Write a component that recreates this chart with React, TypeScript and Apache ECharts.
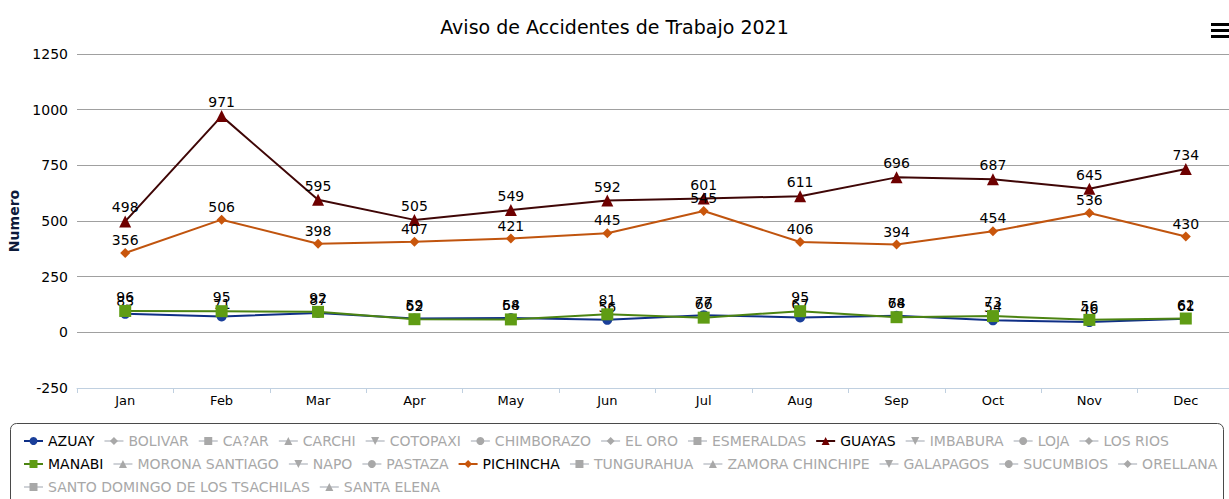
import React, { useEffect, useRef } from "react";
import * as echarts from "echarts";

const months = ["Jan", "Feb", "Mar", "Apr", "May", "Jun", "Jul", "Aug", "Sep", "Oct", "Nov", "Dec"];
const azuay = [83, 71, 87, 62, 64, 56, 77, 67, 74, 54, 46, 61];
const guayas = [498, 971, 595, 505, 549, 592, 601, 611, 696, 687, 645, 734];
const manabi = [96, 95, 92, 59, 58, 81, 66, 95, 68, 73, 56, 62];
const pichincha = [356, 506, 398, 407, 421, 445, 545, 406, 394, 454, 536, 430];

const provinces = [
  "AZUAY", "BOLIVAR", "CA?AR", "CARCHI", "COTOPAXI", "CHIMBORAZO", "EL ORO", "ESMERALDAS",
  "GUAYAS", "IMBABURA", "LOJA", "LOS RIOS", "MANABI", "MORONA SANTIAGO", "NAPO", "PASTAZA",
  "PICHINCHA", "TUNGURAHUA", "ZAMORA CHINCHIPE", "GALAPAGOS", "SUCUMBIOS", "ORELLANA",
  "SANTO DOMINGO DE LOS TSACHILAS", "SANTA ELENA",
];
const yTicks = { min: -250, max: 1250, interval: 250 };

const TRI_DOWN = "path://M0,0 L10,0 L5,10 Z";
const symbolCycle = ["circle", "diamond", "rect", "triangle", TRI_DOWN];

const activeData: Record<string, number[]> = {
  AZUAY: azuay,
  GUAYAS: guayas,
  MANABI: manabi,
  PICHINCHA: pichincha,
};
const styles: Record<string, { line: string; marker: string; size: number }> = {
  AZUAY: { line: "#0f2f86", marker: "#1a3f9a", size: 10 },
  GUAYAS: { line: "#3f0606", marker: "#6e0000", size: 12 },
  MANABI: { line: "#4c8412", marker: "#5f9c14", size: 12 },
  PICHINCHA: { line: "#c0540e", marker: "#c9560c", size: 10 },
};

const FONT = "DejaVu Sans";

export default function App() {
  const ref = useRef<HTMLDivElement>(null);
  useEffect(() => {
    if (!ref.current) return;
    const chart = echarts.init(ref.current, undefined, { renderer: "svg" });
    const selected: Record<string, boolean> = {};
    provinces.forEach((p) => (selected[p] = !!activeData[p]));
    const series = provinces.map((p, i) => {
      const st = styles[p];
      const sym = symbolCycle[i % 5];
      return {
        name: p,
        type: "line",
        data: activeData[p] || [],
        symbol: sym,
        symbolSize: st ? st.size : 10,
        showAllSymbol: true,
        lineStyle: { width: 2, color: st ? st.line : "#999" },
        itemStyle: { color: st ? st.marker : "#999" },
        label: {
          show: true,
          position: "top",
          distance: 1,
          color: "#000",
          fontSize: 14,
          fontFamily: FONT,
        },
        emphasis: { disabled: true },
        z: 2 + i,
      };
    });
    chart.setOption({
      animation: false,
      textStyle: { fontFamily: FONT },
      title: {
        text: "Aviso de Accidentes de Trabajo 2021",
        left: "center",
        top: 12,
        textStyle: { fontSize: 19, fontWeight: "normal", color: "#000", fontFamily: FONT },
      },
      legend: {
        data: provinces.map((p) => ({ name: p })),
        selected,
        left: 18,
        top: 429,
        width: 1207,
        itemWidth: 19,
        itemHeight: 10,
        itemGap: 9,
        textStyle: { fontSize: 14, color: "#000", fontFamily: FONT },
        inactiveColor: "#a8a8a8",
        inactiveBorderColor: "#a8a8a8",
      },
      grid: { left: 77, right: -5, top: 54, bottom: 111, containLabel: false, outerBoundsMode: "none" },
      xAxis: {
        type: "category",
        data: months,
        boundaryGap: true,
        axisLine: { onZero: false, lineStyle: { color: "#c0d0e0", width: 1 } },
        axisTick: { show: true, length: 5, interval: 0, lineStyle: { color: "#c0d0e0" } },
        axisLabel: { color: "#000", fontSize: 13, margin: 6, fontFamily: FONT },
        splitLine: { show: false },
      },
      yAxis: {
        type: "value",
        min: yTicks.min,
        max: yTicks.max,
        interval: yTicks.interval,
        name: "Numero",
        nameLocation: "middle",
        nameRotate: 90,
        nameGap: 50,
        nameTextStyle: { fontSize: 14, fontWeight: "bold", color: "#0d1a3a", fontFamily: FONT },
        axisLine: { show: false },
        axisTick: { show: false },
        axisLabel: {
          color: "#000",
          fontSize: 14,
          margin: 9,
          fontFamily: FONT,
          formatter: (v: number) => String(v),
        },
        splitLine: { show: true, lineStyle: { color: "#a0a0a0", width: 1 } },
      },
      graphic: [
        {
          type: "rect",
          shape: { x: 10.5, y: 423.5, width: 1213, height: 100, r: 6 },
          style: { fill: "none", stroke: "#4a4a4a", lineWidth: 1 },
          silent: true,
        },
        { type: "rect", shape: { x: 1211, y: 23, width: 20, height: 3 }, style: { fill: "#000" } },
        { type: "rect", shape: { x: 1211, y: 29, width: 20, height: 3 }, style: { fill: "#000" } },
        { type: "rect", shape: { x: 1211, y: 35, width: 20, height: 3 }, style: { fill: "#000" } },
      ],
      series,
    });
    return () => chart.dispose();
  }, []);
  return (
    <div
      ref={ref}
      style={{ position: "absolute", left: 0, top: 0, width: 1229, height: 499, overflow: "hidden" }}
    />
  );
}
